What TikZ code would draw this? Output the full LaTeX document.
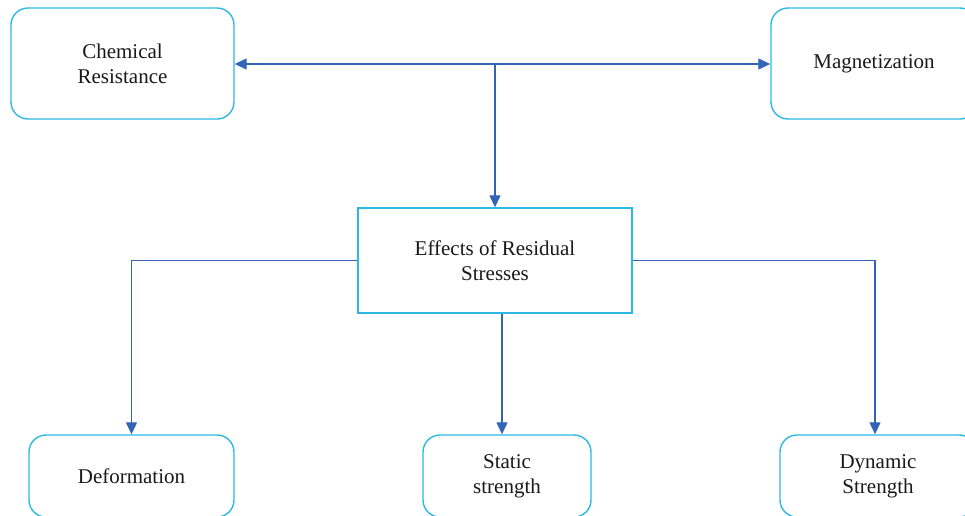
\documentclass[tikz,border=0pt]{standalone}
\usepackage{fontspec}
\setmainfont{Liberation Serif}
\usetikzlibrary{arrows.meta}
\definecolor{boxc}{RGB}{45,184,228}
\definecolor{arrc}{RGB}{50,102,180}
\definecolor{txtc}{RGB}{25,25,25}
\tikzset{
  rbox/.style={draw=boxc, line width=1.4pt, rounded corners=17pt, align=center,
    inner sep=0pt, text=txtc, font=\fontsize{21}{25}\selectfont},
  sbox/.style={draw=boxc, line width=1.4pt, align=center, inner sep=0pt,
    text=txtc, font=\fontsize{21}{25}\selectfont},
  conn/.style={draw=arrc, line width=1.3pt, -{Triangle[length=12pt,width=11pt]}},
  conn2/.style={draw=arrc, line width=1.3pt, {Triangle[length=12pt,width=11pt]}-{Triangle[length=12pt,width=11pt]}}
}
\begin{document}
\begin{tikzpicture}[x=1pt,y=-1pt]
\useasboundingbox (0,0) rectangle (965,515);
\clip (0,0) rectangle (965,515);
\node[rbox, minimum width=223pt, minimum height=111pt] (chem) at (122.5,63.5) {Chemical\\Resistance};
\node[rbox, minimum width=206pt, minimum height=111pt] (mag) at (874,63.5) {Magnetization};
\node[sbox, minimum width=274pt, minimum height=105pt] (eff) at (495,260.5) {Effects of Residual\\Stresses};
\node[rbox, minimum width=205pt, minimum height=82pt] (def) at (131.5,476) {Deformation};
\node[rbox, minimum width=168pt, minimum height=82pt] (stat) at (507,476) {Static\\strength};
\node[rbox, minimum width=196pt, minimum height=82pt] (dyn) at (878,476) {Dynamic\\Strength};
\coordinate (jn) at (495,64);
\draw[conn2] (chem.east |- jn) -- (mag.west |- jn);
\draw[conn] (jn) -- (eff.north);
\draw[conn] (eff.west) -| (def.north);
\draw[conn] (eff.east) -| ([xshift=-3pt]dyn.north);
\draw[conn] ([xshift=7pt]eff.south) -- ([xshift=7pt]eff.south |- stat.north);
\end{tikzpicture}
\end{document}
